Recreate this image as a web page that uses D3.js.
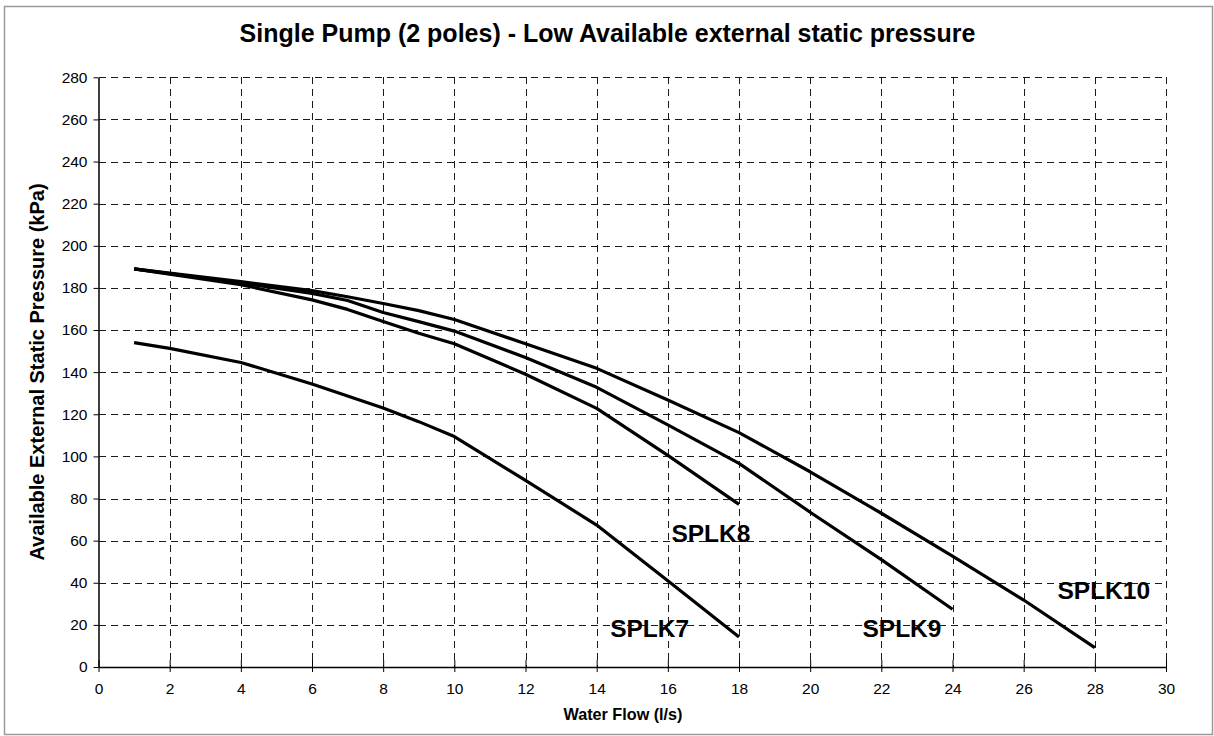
<!DOCTYPE html>
<html>
<head>
<meta charset="utf-8">
<script src="https://cdn.jsdelivr.net/npm/d3@7"></script>
<style>
  html, body { margin: 0; padding: 0; background: #fff; }
  svg { display: block; font-family: "Liberation Sans", Arial, sans-serif; }
</style>
</head>
<body>
<svg id="chart" width="1214" height="736"></svg>
<script>
// ---- Data ----
const xTicks = [0,2,4,6,8,10,12,14,16,18,20,22,24,26,28,30];
const yTicks = [0,20,40,60,80,100,120,140,160,180,200,220,240,260,280];

const splk7Flow  = [1, 2, 4, 6, 8, 9, 10, 12, 14, 16, 18];
const splk7Press = [154, 151.3, 144.6, 134.4, 123, 116.5, 109.4, 88.6, 67.4, 41, 14.2];

const splk8Flow  = [1, 4, 6, 7, 8, 9, 10, 12, 14, 16, 18];
const splk8Press = [189, 181.5, 174.3, 169.8, 164, 158.5, 153.5, 139, 122.8, 100.5, 77.2];

const splk9Flow  = [1, 4, 6, 7, 8, 9, 10, 12, 14, 16, 18, 20, 22, 24];
const splk9Press = [189, 182.3, 177.4, 174, 168.3, 164, 159.5, 147, 132.8, 115, 96.7, 73.5, 51, 27.4];

const splk10Flow  = [1, 4, 6, 7, 8, 9, 10, 12, 14, 16, 18, 20, 22, 24, 26, 28];
const splk10Press = [189, 183, 178.7, 175.8, 172.6, 169.2, 165, 153.5, 141.8, 126.8, 111.3, 92.7, 73, 52.7, 31.8, 9.2];

const seriesNames = ["SPLK7", "SPLK8", "SPLK9", "SPLK10"];
// label anchor (left/baseline) in data units
const labelFlow  = [14.38, 16.1, 21.47, 26.95];
const labelPress = [14.3, 59.5, 14.3, 32.3];

const titleText = "Single Pump (2 poles) - Low Available external static pressure";
const xTitle = "Water Flow (l/s)";
const yTitle = "Available External Static Pressure (kPa)";

// ---- Layout ----
const W = 1214, H = 736;
const plot = { left: 98.5, right: 1166, top: 77.3, bottom: 667 };

const svg = d3.select("#chart");

svg.append("rect")
  .attr("x", 4.5).attr("y", 6.5).attr("width", 1208).attr("height", 728)
  .attr("fill", "#fff").attr("stroke", "#9a9a9a").attr("stroke-width", 1.5);

const x = d3.scaleLinear().domain([0, 30]).range([plot.left, plot.right]);
const y = d3.scaleLinear().domain([0, 280]).range([plot.bottom, plot.top]);

// Grid (dashed)
const grid = svg.append("g").attr("stroke", "#1a1a1a").attr("stroke-width", 1)
  .attr("stroke-dasharray", "7,5").attr("shape-rendering", "crispEdges");
grid.selectAll("line.h").data(yTicks.filter(d => d > 0)).join("line")
  .attr("class", "h")
  .attr("x1", plot.left).attr("x2", plot.right)
  .attr("y1", d => Math.round(y(d)) + 0.5).attr("y2", d => Math.round(y(d)) + 0.5);
grid.selectAll("line.v").data(xTicks.filter(d => d > 0)).join("line")
  .attr("class", "v")
  .attr("y1", plot.top).attr("y2", plot.bottom)
  .attr("x1", d => Math.round(x(d)) + 0.5).attr("x2", d => Math.round(x(d)) + 0.5);

// Axes
const xAxis = d3.axisBottom(x).tickValues(xTicks).tickSize(5).tickSizeOuter(0).tickPadding(11);
const yAxis = d3.axisLeft(y).tickValues(yTicks).tickSize(5).tickSizeOuter(0).tickPadding(6);

const gx = svg.append("g").attr("transform", `translate(0,${plot.bottom})`).call(xAxis);
const gy = svg.append("g").attr("transform", `translate(${plot.left},0)`).call(yAxis);
[gx, gy].forEach(g => {
  g.select(".domain").attr("stroke", "#000").attr("stroke-width", 1.5);
  g.selectAll(".tick line").attr("stroke", "#000").attr("stroke-width", 1);
  g.selectAll(".tick text").attr("fill", "#000")
    .style("font-family", '"Liberation Sans", Arial, sans-serif').style("font-size", "15.5px");
});
// x ticks cross the axis
gx.selectAll(".tick line").attr("y1", -7).attr("y2", 5);

// Series lines
const line = d3.line().x(d => x(d[0])).y(d => y(d[1]));
const series = [
  d3.zip(splk7Flow, splk7Press),
  d3.zip(splk8Flow, splk8Press),
  d3.zip(splk9Flow, splk9Press),
  d3.zip(splk10Flow, splk10Press)
];
svg.append("g").selectAll("path").data(series).join("path")
  .attr("d", line).attr("fill", "none").attr("stroke", "#000")
  .attr("stroke-width", 3.2).attr("stroke-linejoin", "round");

// Series labels
svg.append("g").selectAll("text").data(seriesNames).join("text")
  .attr("x", (d, i) => x(labelFlow[i]))
  .attr("y", (d, i) => y(labelPress[i]))
  .attr("font-size", 24.5).attr("font-weight", "bold").attr("fill", "#000")
  .text(d => d);

// Title
svg.append("text").attr("x", 607.5).attr("y", 42).attr("text-anchor", "middle")
  .attr("font-size", 25).attr("font-weight", "bold").text(titleText);

// Axis titles
svg.append("text").attr("x", 623).attr("y", 720).attr("text-anchor", "middle")
  .attr("font-size", 16.2).attr("font-weight", "bold").text(xTitle);
svg.append("text").attr("transform", `translate(44,372) rotate(-90)`).attr("text-anchor", "middle")
  .attr("font-size", 20).attr("font-weight", "bold").text(yTitle);
</script>
</body>
</html>
